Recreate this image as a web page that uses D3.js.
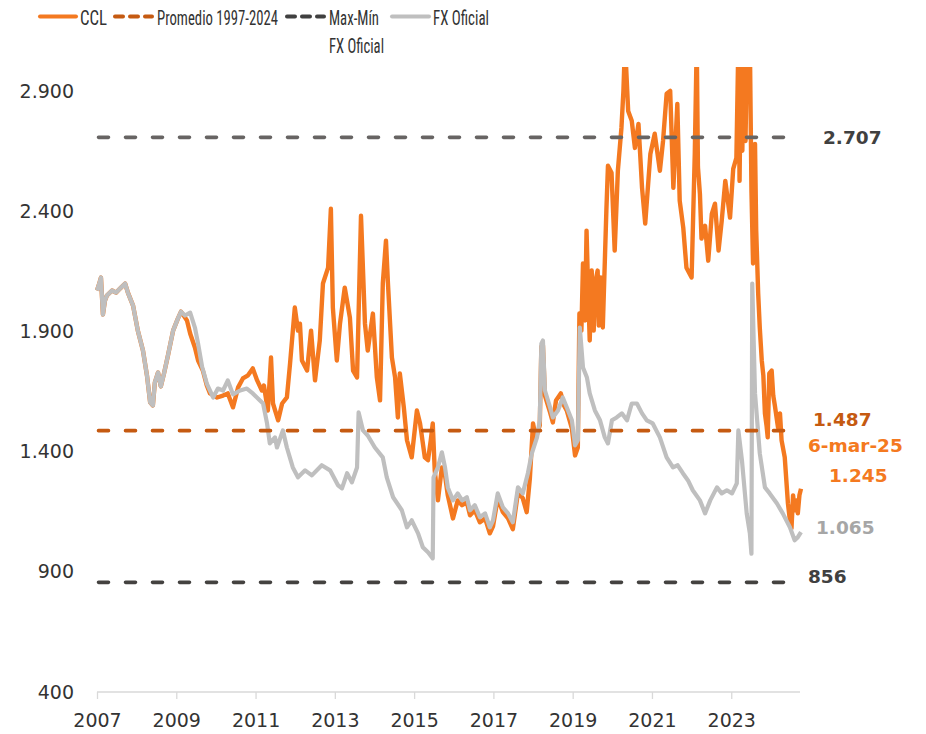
<!DOCTYPE html>
<html><head><meta charset="utf-8">
<script src="https://cdn.jsdelivr.net/npm/d3@7"></script>
<style>body{margin:0;background:#fff}</style></head>
<body><svg id="c" width="926" height="734"></svg>
<script>
const xTicks=[2007,2009,2011,2013,2015,2017,2019,2021,2023];
const yTicks=[400,900,1400,1900,2400,2900];
const promedio=1487, maxFx=2707, minFx=856;
const lastDateLabel="6-mar-25", lastCcl=1245, lastFx=1065;

const fxDates=[2007.00,2007.05,2007.10,2007.15,2007.20,2007.25,2007.38,2007.48,2007.58,2007.71,2007.78,2007.91,2008.03,2008.16,2008.26,2008.34,2008.41,2008.46,2008.54,2008.61,2008.69,2008.79,2008.92,2009.04,2009.12,2009.22,2009.35,2009.47,2009.55,2009.65,2009.77,2009.93,2010.05,2010.18,2010.30,2010.43,2010.61,2010.78,2010.93,2011.06,2011.19,2011.29,2011.36,2011.49,2011.54,2011.69,2011.79,2011.94,2012.07,2012.25,2012.42,2012.67,2012.88,2013.08,2013.18,2013.31,2013.43,2013.56,2013.60,2013.71,2013.83,2014.01,2014.21,2014.31,2014.47,2014.69,2014.82,2014.94,2015.10,2015.22,2015.35,2015.47,2015.49,2015.60,2015.70,2015.78,2015.85,2015.98,2016.10,2016.21,2016.33,2016.41,2016.53,2016.66,2016.79,2016.91,2016.99,2017.11,2017.24,2017.37,2017.49,2017.62,2017.74,2017.87,2017.97,2018.10,2018.17,2018.21,2018.25,2018.30,2018.43,2018.50,2018.63,2018.75,2018.85,2018.98,2019.06,2019.13,2019.18,2019.26,2019.36,2019.43,2019.56,2019.69,2019.81,2019.89,2019.99,2020.11,2020.24,2020.37,2020.49,2020.62,2020.75,2020.87,2021.02,2021.20,2021.37,2021.53,2021.65,2021.78,2021.91,2022.03,2022.21,2022.34,2022.47,2022.64,2022.76,2022.89,2023.02,2023.14,2023.18,2023.27,2023.39,2023.47,2023.51,2023.53,2023.60,2023.72,2023.85,2023.97,2024.15,2024.30,2024.48,2024.60,2024.68,2024.76];
const fxValues=[2070,2095,2124,1970,2028,2049,2070,2061,2078,2099,2061,2007,1903,1820,1717,1605,1592,1688,1729,1671,1725,1800,1903,1953,1982,1966,1978,1916,1849,1754,1683,1625,1662,1654,1696,1638,1654,1662,1642,1621,1600,1517,1434,1459,1417,1488,1417,1334,1293,1322,1301,1343,1322,1260,1247,1310,1272,1334,1563,1488,1467,1417,1376,1293,1210,1156,1085,1114,1060,1002,981,956,1293,1334,1397,1334,1251,1197,1226,1197,1210,1156,1177,1127,1143,1085,1114,1226,1168,1143,1106,1251,1226,1310,1393,1459,1530,1849,1862,1654,1584,1542,1571,1625,1584,1530,1426,1447,1916,1750,1708,1642,1571,1530,1459,1434,1530,1542,1559,1530,1600,1600,1559,1530,1517,1459,1376,1334,1343,1310,1280,1239,1197,1143,1197,1251,1226,1239,1226,1268,1488,1364,1143,1060,975,2099,1642,1393,1251,1226,1185,1143,1085,1031,1044,1065];

const cclDates=[2007.00,2007.05,2007.10,2007.15,2007.20,2007.25,2007.38,2007.48,2007.58,2007.71,2007.78,2007.91,2008.03,2008.16,2008.26,2008.34,2008.41,2008.46,2008.54,2008.61,2008.69,2008.79,2008.92,2009.04,2009.12,2009.27,2009.35,2009.47,2009.55,2009.67,2009.77,2009.85,2010.03,2010.18,2010.30,2010.43,2010.56,2010.68,2010.81,2010.93,2011.04,2011.16,2011.21,2011.31,2011.39,2011.44,2011.57,2011.67,2011.79,2011.87,2011.99,2012.07,2012.12,2012.17,2012.30,2012.40,2012.50,2012.62,2012.70,2012.83,2012.90,2012.95,2013.05,2013.13,2013.25,2013.38,2013.46,2013.56,2013.66,2013.76,2013.83,2013.96,2014.06,2014.14,2014.21,2014.29,2014.34,2014.44,2014.52,2014.59,2014.64,2014.74,2014.82,2014.94,2015.07,2015.15,2015.27,2015.35,2015.42,2015.47,2015.52,2015.60,2015.70,2015.78,2015.85,2015.98,2016.10,2016.21,2016.33,2016.41,2016.53,2016.66,2016.79,2016.91,2016.99,2017.11,2017.24,2017.37,2017.49,2017.62,2017.74,2017.84,2017.92,2018.00,2018.07,2018.17,2018.21,2018.25,2018.30,2018.43,2018.50,2018.58,2018.70,2018.78,2018.85,2018.98,2019.06,2019.13,2019.17,2019.22,2019.26,2019.31,2019.35,2019.39,2019.43,2019.48,2019.53,2019.58,2019.63,2019.66,2019.71,2019.76,2019.85,2019.89,2019.98,2020.06,2020.14,2020.23,2020.28,2020.32,2020.40,2020.49,2020.57,2020.66,2020.75,2020.83,2020.96,2021.07,2021.20,2021.28,2021.37,2021.46,2021.54,2021.64,2021.70,2021.79,2021.87,2022.00,2022.08,2022.13,2022.16,2022.21,2022.25,2022.34,2022.42,2022.51,2022.59,2022.68,2022.76,2022.85,2022.97,2023.05,2023.13,2023.18,2023.21,2023.25,2023.28,2023.32,2023.36,2023.40,2023.44,2023.47,2023.51,2023.55,2023.60,2023.63,2023.68,2023.72,2023.77,2023.81,2023.85,2023.89,2023.92,2023.96,2024.02,2024.06,2024.10,2024.18,2024.23,2024.27,2024.35,2024.43,2024.48,2024.52,2024.56,2024.60,2024.65,2024.68,2024.72,2024.76];
const cclValues=[2070,2095,2124,1970,2028,2049,2070,2061,2078,2099,2061,2007,1903,1820,1717,1605,1592,1688,1729,1671,1725,1800,1903,1953,1982,1945,1891,1833,1779,1737,1675,1642,1625,1633,1642,1584,1667,1704,1717,1746,1696,1654,1675,1571,1791,1600,1530,1600,1625,1766,1999,1903,1932,1779,1737,1903,1696,1862,2099,2165,2410,1999,1779,1932,2082,1957,1737,1708,2381,1932,1820,1974,1708,1613,2099,2277,2099,1791,1708,1542,1725,1584,1447,1376,1571,1517,1376,1364,1447,1517,1322,1197,1334,1301,1218,1122,1197,1177,1189,1135,1156,1106,1122,1060,1089,1206,1148,1122,1077,1231,1206,1148,1289,1517,1455,1509,1837,1841,1633,1563,1521,1613,1642,1592,1571,1496,1384,1417,1974,1903,2182,1945,2319,2070,1862,2153,1903,2111,2153,1924,2124,1916,2402,2589,2560,2236,2568,2746,2900,3100,2817,2776,2663,2763,2497,2348,2638,2722,2568,2692,2888,2900,2497,2846,2443,2331,2165,2124,2638,3100,2584,2472,2286,2339,2194,2389,2431,2236,2360,2526,2373,2576,2622,3100,2526,3100,2651,3100,2692,3100,2859,3100,2485,2182,2680,2319,2057,1916,1779,1717,1559,1509,1459,1725,1737,1633,1592,1500,1559,1447,1376,1185,1114,1081,1218,1156,1197,1143,1218,1245];

const svg=d3.select("#c");
const x=d3.scaleLinear().domain([2007,2024.76]).range([97,801]);
const y=d3.scaleLinear().domain([400,3000]).range([692,66.9]);
const loc=d3.formatLocale({decimal:",",thousands:".",grouping:[3],currency:["$",""]});
const fmt=loc.format(",d");
const NUM="'DejaVu Sans', Verdana, sans-serif";
const NARROW="'Liberation Sans Narrow','Roboto Condensed','Liberation Sans',Arial,sans-serif";

svg.append("defs").append("clipPath").attr("id","plot").append("rect")
  .attr("x",80).attr("y",y(3000)).attr("width",740).attr("height",y(400)-y(3000)+10);

// x axis
const xAxis=d3.axisBottom(x).tickValues(xTicks).tickFormat(d3.format("d")).tickSize(7).tickSizeOuter(0);
const gx=svg.append("g").attr("transform",`translate(0,${y(400)})`).call(xAxis);
gx.select(".domain").attr("stroke","#d9d9d9").attr("stroke-width",1.3).attr("d",`M${x(2007)},0H800`);
gx.selectAll(".tick line").attr("stroke","#d9d9d9").attr("stroke-width",1.3);
gx.selectAll(".tick text").attr("fill","#333").attr("font-size",19).attr("font-family",NUM).attr("y",14).attr("dy","1.1em");

// y axis
const yAxis=d3.axisLeft(y).tickValues(yTicks).tickFormat(fmt).tickSize(0);
const gy=svg.append("g").attr("transform",`translate(${x(2007)-23},0)`).call(yAxis);
gy.select(".domain").remove();
gy.selectAll(".tick text").attr("fill","#333").attr("font-size",19).attr("font-family",NUM).attr("x",0);

const plot=svg.append("g").attr("clip-path","url(#plot)");
const line=d3.line().x(d=>x(d[0])).y(d=>y(d[1])).curve(d3.curveLinear);

// CCL
plot.append("path").datum(cclDates.map((d,i)=>[d,cclValues[i]]))
  .attr("d",line).attr("fill","none").attr("stroke","#f47920").attr("stroke-width",4.4).attr("stroke-linejoin","round");

function hline(v,color){
  svg.append("line").attr("x1",x(2007)+1.5).attr("x2",799).attr("y1",y(v)).attr("y2",y(v))
   .attr("stroke",color).attr("stroke-width",3.6).attr("stroke-linecap","round").attr("stroke-dasharray","10,17");
}
hline(promedio,"#c55a11");
hline(maxFx,"#676463");
hline(minFx,"#444240");

// FX oficial
plot.append("path").datum(fxDates.map((d,i)=>[d,fxValues[i]]))
  .attr("d",line).attr("fill","none").attr("stroke","#bfbfbf").attr("stroke-width",4.2).attr("stroke-linejoin","round");

// right labels
function lab(txt,xx,yy,color){
  svg.append("text").attr("x",xx).attr("y",yy).attr("dy","0.35em").text(txt)
   .attr("fill",color).attr("font-size",18.5).attr("font-weight","bold").attr("font-family",NUM);
}
lab(fmt(maxFx),823,y(maxFx),"#404040");
lab(fmt(promedio),813,420,"#c55a11");
lab(lastDateLabel,808,446,"#f47920");
lab(fmt(lastCcl),829,476,"#f47920");
lab(fmt(lastFx),816,528,"#a6a6a6");
lab(fmt(minFx),808,577,"#404040");

// legend
const lg=svg.append("g");
function ltext(t,xx,yy,w){
  lg.append("text").attr("x",xx).attr("y",yy).text(t).attr("fill","#333").attr("font-size",20)
   .attr("font-family",NARROW).attr("textLength",w).attr("lengthAdjust","spacingAndGlyphs");
}
lg.append("line").attr("x1",40).attr("x2",76).attr("y1",16.5).attr("y2",16.5).attr("stroke","#f47920").attr("stroke-width",4).attr("stroke-linecap","round");
ltext("CCL",80,24.5,27);
lg.append("line").attr("x1",115).attr("x2",152).attr("y1",16.5).attr("y2",16.5).attr("stroke","#c55a11").attr("stroke-width",4).attr("stroke-linecap","round").attr("stroke-dasharray","8,7");
ltext("Promedio 1997-2024",157,24.5,121);
lg.append("line").attr("x1",287).attr("x2",324).attr("y1",16.5).attr("y2",16.5).attr("stroke","#404040").attr("stroke-width",4).attr("stroke-linecap","round").attr("stroke-dasharray","8,7");
ltext("Max-Mín",329,24.5,50);
ltext("FX Oficial",329,53,55);
lg.append("line").attr("x1",392).attr("x2",429).attr("y1",16.5).attr("y2",16.5).attr("stroke","#bfbfbf").attr("stroke-width",4).attr("stroke-linecap","round");
ltext("FX Oficial",433,24.5,56);
</script></body></html>
